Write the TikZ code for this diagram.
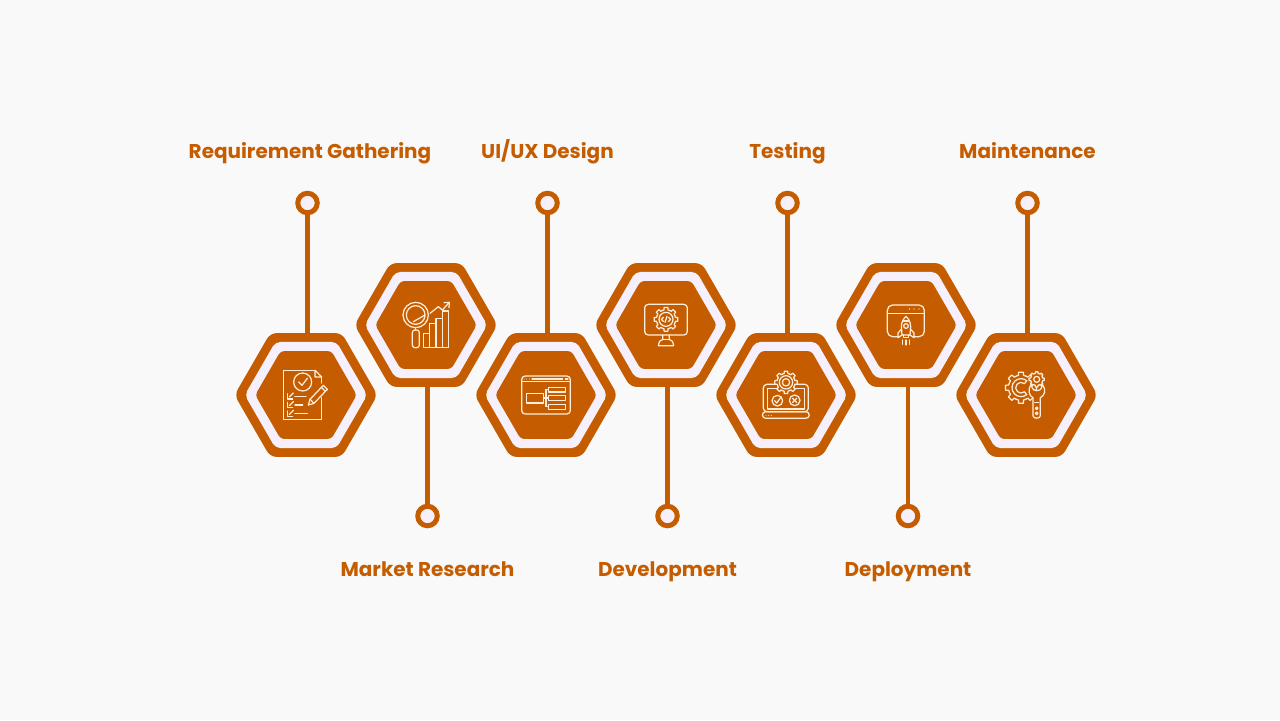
\documentclass[tikz,border=0pt]{standalone}
\usepackage{fontspec}
\setmainfont{Poppins}
\usepackage{xcolor}
\definecolor{PageGray}{HTML}{F9F9F9}
\definecolor{HexOrange}{HTML}{C55D00}
\definecolor{HexLilac}{HTML}{F6F0FC}
\definecolor{IconCream}{HTML}{FFEEDC}
\usetikzlibrary{shapes.geometric, positioning, calc}
\tikzset{
  % Hexagon styles
  hexouter/.style={regular polygon, regular polygon sides=6, fill=HexOrange, inner sep=0pt, minimum size=2.86cm, rounded corners=3.6pt},
  hexmiddle/.style={regular polygon, regular polygon sides=6, fill=HexLilac, inner sep=0pt, minimum size=2.45cm, rounded corners=2.8pt},
  hexinner/.style={regular polygon, regular polygon sides=6, fill=HexOrange, inner sep=0pt, minimum size=2.03cm, rounded corners=2pt},
  % Stem and label styles
  stemdot/.style={circle, draw=HexOrange, fill=HexLilac, line width=0.1cm, inner sep=0pt, minimum size=0.39cm},
  stemline/.style={draw=HexOrange, line width=0.09cm},
  steplabel/.style={font=\fontsize{11.37}{14}\selectfont\bfseries, text=HexOrange, text height=0.3cm, text depth=0.08cm, inner sep=0pt},
  % Icon styles
  iconstroke/.style={draw=IconCream, line width=0.7pt, line cap=round, line join=round},
  iconscale/.style={scale=0.3333},
  % Small gear used by several icons, radius 10
  pics/gearwheel/.style={code={
    \fill[HexOrange] (0,0) circle (9.5);
    \foreach \a in {0,45,...,315}
      \draw[iconstroke, rotate=\a] (-22.5:8) -- (-12:8) -- (-9:10) -- (9:10) -- (12:8) -- (22.5:8);
  }},
  pics/iconchecklist/.style={code={
    \draw[iconstroke] (27,-74) -- (-68,-74) -- (-68,74) -- (47,74) -- (47,8);
    \draw[iconstroke] (27,-74) -- (47,-54) -- (27,-54) -- cycle;
    \draw[iconstroke] (47,-54) -- (47,-36);
    \draw[iconstroke] (-10,-39) circle (27);
    \draw[iconstroke] (-22,-39) -- (-12,-29) -- (4,-50);
    \foreach \y in {4,30,56} {
      \draw[iconstroke] (-55,\y-8) -- (-55,\y+8) -- (-40,\y+8);
      \draw[iconstroke] (-50,\y+2) -- (-38,\y-10);
    }
    \draw[iconstroke] (-33,4) -- (0,4);
    \draw[iconstroke] (-33,30) -- (-10,30);
    \draw[iconstroke] (-33,56) -- (4,56);
    \draw[iconstroke, fill=HexOrange] (7,30) -- (12,13) -- (52,-29) -- (64,-17) -- (24,25) -- cycle;
    \draw[iconstroke] (46,-23) -- (58,-11);
    \draw[iconstroke] (12,13) -- (24,25);
  }},
  pics/iconmarket/.style={code={
    \draw[iconstroke] (-31,-30) circle (38);
    \draw[iconstroke] (-31,-30) circle (28);
    \draw[iconstroke] (-38,-10) -- (-3,-30);
    \draw[iconstroke] (-31,8) -- (-31,15);
    \draw[iconstroke, rounded corners=1.5pt] (-41,15) rectangle (-20,68);
    \draw[iconstroke] (-8,25) rectangle (10,68);
    \draw[iconstroke] (10,-5) rectangle (30,68);
    \draw[iconstroke] (30,-20) rectangle (49,68);
    \draw[iconstroke] (49,-42) rectangle (68,68);
    \draw[iconstroke] (12,-35) -- (37,-55) -- (49,-45) -- (70,-68);
    \draw[iconstroke] (54,-67) -- (70,-68) -- (69,-52);
  }},
  pics/icondesign/.style={code={
    \draw[iconstroke, rounded corners=2pt] (-73,-57) rectangle (73,57);
    \draw[iconstroke] (-73,-40) -- (73,-40);
    \foreach \x in {-65,-58,-50}
      \fill[IconCream] (\x,-48) circle (1.6);
    \draw[iconstroke] (-42,-48) -- (50,-48);
    \draw[iconstroke] (58,-48) -- (66,-48);
    \draw[iconstroke] (-58,-4) rectangle (-8,24);
    \draw[iconstroke] (7,-23) rectangle (59,-9);
    \draw[iconstroke] (7,1) rectangle (59,16);
    \draw[iconstroke] (7,28) rectangle (59,43);
    \draw[iconstroke] (-8,9) -- (7,9);
    \draw[iconstroke] (7,-16) -- (0,-16) -- (0,35) -- (7,35);
  }},
  pics/iconcode/.style={code={
    \draw[iconstroke, rounded corners=2pt] (-64,-62) rectangle (64,30);
    \pic[scale=1.2] at (0,-17) {gearwheel};
    \draw[iconstroke] (0,-17) circle (21);
    \draw[iconstroke] (-8,-23) -- (-14,-17) -- (-8,-11);
    \draw[iconstroke] (8,-23) -- (14,-17) -- (8,-11);
    \draw[iconstroke] (-3,-8) -- (3,-26);
    \draw[iconstroke] (-10,30) -- (-10,44) .. controls (-20,46) and (-23,54) .. (-23,62) -- (23,62) .. controls (23,54) and (20,46) .. (10,44) -- (10,30);
    \draw[iconstroke] (-10,44) -- (10,44);
  }},
  pics/icontesting/.style={code={
    \draw[iconstroke, rounded corners=2pt] (-68,-32) rectangle (67,50);
    \draw[iconstroke] (-56,-20) rectangle (55,42);
    \draw[iconstroke, rounded corners=2pt] (-71,50) rectangle (70,70);
    \foreach \x in {-60,-52,-44}
      \fill[IconCream] (\x,61) circle (1.6);
    \pic[scale=1.13] at (0,-38) {gearwheel};
    \draw[iconstroke] (0,-38) circle (20);
    \draw[iconstroke] (0,-38) circle (11);
    \draw[iconstroke] (-26,17) circle (16);
    \draw[iconstroke] (-34,17) -- (-28,24) -- (-16,8);
    \draw[iconstroke] (26,16) circle (16);
    \draw[iconstroke] (20,10) -- (32,22);
    \draw[iconstroke] (32,10) -- (20,22);
  }},
  pics/iconrocket/.style={code={
    \draw[iconstroke, rounded corners=3pt] (-25,35) -- (-56,35) -- (-56,-60) -- (55,-60) -- (55,35) -- (25,35);
    \draw[iconstroke] (-56,-34) -- (55,-34);
    \foreach \x in {10,24,39}
      \fill[IconCream] (\x,-48) circle (2);
    \draw[iconstroke] (-12,30) -- (-14,5) .. controls (-14,-10) and (-6,-20) .. (0,-26) .. controls (6,-20) and (14,-10) .. (14,5) -- (12,30) -- cycle;
    \draw[iconstroke] (-9,-12) -- (9,-12);
    \draw[iconstroke] (0,3) circle (7);
    \draw[iconstroke] (-13,12) -- (-24,24) -- (-24,38) -- (-12,30);
    \draw[iconstroke] (13,12) -- (24,24) -- (24,38) -- (12,30);
    \draw[iconstroke] (-8,30) -- (-8,38) -- (8,38) -- (8,30);
    \draw[iconstroke] (-10,45) -- (-10,58);
    \draw[iconstroke] (0,45) -- (0,60);
    \draw[iconstroke] (10,45) -- (10,58);
  }},
  pics/iconservice/.style={code={
    \pic[scale=1.57] at (-15,-22) {gearwheel};
    \begin{scope}[shift={(-15,-22)}]
      \draw[iconstroke] (50:27) arc[start angle=50, end angle=310, radius=27] -- (310:16) arc[start angle=310, end angle=50, radius=16] -- cycle;
    \end{scope}
    \pic[scale=0.77] at (32,-47) {gearwheel};
    \draw[iconstroke] (32,-47) circle (9);
    \draw[iconstroke, fill=HexOrange] (18,-33) .. controls (0,-15) and (12,5) .. (21,8) -- (21,62) .. controls (21,72) and (43,72) .. (43,62) -- (43,8) .. controls (55,2) and (64,-15) .. (47,-33) -- (47,-22) .. controls (44,-10) and (21,-10) .. (18,-22) -- cycle;
    \draw[iconstroke] (32,40) circle (4);
    \draw[iconstroke] (32,55) circle (4);
    \draw[iconstroke] (26,22) -- (38,22);
  }}
}
\begin{document}
\begin{tikzpicture}[x=0.02cm, y=-0.02cm]
  \useasboundingbox (0,0) rectangle (1280,720);
  \fill[PageGray] (0,0) rectangle (1280,720);

  % Hexagons, left to right
  \node[hexouter] (reqouter) at (306,395) {};
  \node[hexmiddle] (reqmiddle) at (reqouter.center) {};
  \node[hexinner] (reqinner) at (reqouter.center) {};

  \node[hexouter] (marketouter) at (426,325) {};
  \node[hexmiddle] (marketmiddle) at (marketouter.center) {};
  \node[hexinner] (marketinner) at (marketouter.center) {};

  \node[hexouter] (designouter) at (546,395) {};
  \node[hexmiddle] (designmiddle) at (designouter.center) {};
  \node[hexinner] (designinner) at (designouter.center) {};

  \node[hexouter] (devouter) at (666,325) {};
  \node[hexmiddle] (devmiddle) at (devouter.center) {};
  \node[hexinner] (devinner) at (devouter.center) {};

  \node[hexouter] (testouter) at (786,395) {};
  \node[hexmiddle] (testmiddle) at (testouter.center) {};
  \node[hexinner] (testinner) at (testouter.center) {};

  \node[hexouter] (deployouter) at (906,325) {};
  \node[hexmiddle] (deploymiddle) at (deployouter.center) {};
  \node[hexinner] (deployinner) at (deployouter.center) {};

  \node[hexouter] (mainouter) at (1026,395) {};
  \node[hexmiddle] (mainmiddle) at (mainouter.center) {};
  \node[hexinner] (maininner) at (mainouter.center) {};

  % Icons
  \pic[iconscale] at (reqouter.center) {iconchecklist};
  \pic[iconscale] at (marketouter.center) {iconmarket};
  \pic[iconscale] at (designouter.center) {icondesign};
  \pic[iconscale] at (devouter.center) {iconcode};
  \pic[iconscale] at (testouter.center) {icontesting};
  \pic[iconscale] at (deployouter.center) {iconrocket};
  \pic[iconscale] at (mainouter.center) {iconservice};

  % Stem dots
  \node[stemdot] (reqdot) at (307.5,203) {};
  \node[stemdot] (designdot) at (547.5,203) {};
  \node[stemdot] (testdot) at (787.5,203) {};
  \node[stemdot] (maindot) at (1027.5,203) {};
  \node[stemdot] (marketdot) at (427.5,516) {};
  \node[stemdot] (devdot) at (667.5,516) {};
  \node[stemdot] (deploydot) at (908,516) {};

  % Stems
  \draw[stemline] (reqdot) -- (reqdot |- reqouter.north);
  \draw[stemline] (designdot) -- (designdot |- designouter.north);
  \draw[stemline] (testdot) -- (testdot |- testouter.north);
  \draw[stemline] (maindot) -- (maindot |- mainouter.north);
  \draw[stemline] (marketdot) -- (marketdot |- marketouter.south);
  \draw[stemline] (devdot) -- (devdot |- devouter.south);
  \draw[stemline] (deploydot) -- (deploydot |- deployouter.south);

  % Labels
  \node[steplabel, above=0.56cm of reqdot, xshift=0.05cm] (reqlabel) {Requirement Gathering};
  \node[steplabel, above=0.56cm of designdot] (designlabel) {UI/UX Design};
  \node[steplabel, above=0.56cm of testdot] (testlabel) {Testing};
  \node[steplabel, above=0.56cm of maindot] (mainlabel) {Maintenance};
  \node[steplabel, below=0.66cm of marketdot] (marketlabel) {Market Research};
  \node[steplabel, below=0.66cm of devdot] (devlabel) {Development};
  \node[steplabel, below=0.66cm of deploydot] (deploylabel) {Deployment};
\end{tikzpicture}
\end{document}
